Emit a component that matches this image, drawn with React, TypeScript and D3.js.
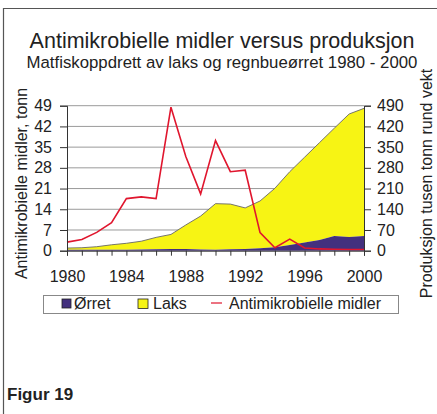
import React, { useRef, useEffect } from 'react';
import * as d3 from 'd3';

// years on the x axis
const years = d3.range(1980, 2001);
// ørret (rainbow trout) production, thousand tonnes
const orret = [3, 3, 3, 3, 3, 4, 5, 6, 6, 4, 3, 4.5, 5.6, 8, 12, 19, 28, 36, 50, 46, 50];
// laks (salmon) production, thousand tonnes, stacked on ørret
const laks = [6, 7, 10.5, 17, 22, 28, 40, 49, 81, 113, 156, 153, 139, 160, 199, 248, 288, 329, 364, 416, 431];
// antimicrobial agents used, tonnes
const midler = [2.9, 3.8, 6.2, 9.5, 17.6, 18.2, 17.6, 48.5, 31.8, 19.2, 37.2, 26.7, 27.2, 6.1, 1.0, 3.9, 0.9, 0.6, 0.5, 0.4, 0.4];

const leftTicks = [0, 7, 14, 21, 28, 35, 42, 49];
const rightTicks = [0, 70, 140, 210, 280, 350, 420, 490];
const xLabels = [1980, 1984, 1988, 1992, 1996, 2000];

const FONT = "'Liberation Sans', Arial, sans-serif";

const App = () => {
    const svgRef = useRef<SVGSVGElement | null>(null);

    useEffect(() => {
        const svg = d3.select(svgRef.current);
        svg.selectAll("*").remove();

        const left = 67, right = 364, top = 105.7, bottom = 250.7;

        const x = d3.scaleLinear().domain([1980, 2000]).range([left, right]);
        const yL = d3.scaleLinear().domain([0, 49]).range([bottom, top]);
        const yR = d3.scaleLinear().domain([0, 490]).range([bottom, top]);

        // frame
        svg.append("path")
            .attr("d", "M3.5,414 L3.5,8.5 L437,8.5")
            .attr("fill", "none")
            .attr("stroke", "#555")
            .attr("stroke-width", 1.2);

        svg.append("text")
            .attr("x", 222).attr("y", 48)
            .attr("text-anchor", "middle")
            .attr("font-size", 21.5)
            .attr("fill", "#222")
            .text("Antimikrobielle midler versus produksjon");

        svg.append("text")
            .attr("x", 222).attr("y", 68)
            .attr("text-anchor", "middle")
            .attr("font-size", 16.8)
            .attr("fill", "#222")
            .text("Matfiskoppdrett av laks og regnbueørret 1980 - 2000");

        // gridlines
        svg.append("g")
            .selectAll("line")
            .data(leftTicks.slice(1))
            .enter()
            .append("line")
            .attr("x1", left).attr("x2", right)
            .attr("y1", (d) => yL(d)).attr("y2", (d) => yL(d))
            .attr("stroke", "#9a9a9a")
            .attr("stroke-width", 1);

        const rows = years.map((yr, i) => ({ year: yr, orret: orret[i], laks: laks[i] }));
        const stacked = d3.stack<any>().keys(["orret", "laks"])(rows);

        const area = d3.area<any>()
            .x((d) => x(d.data.year))
            .y0((d) => yR(d[0]))
            .y1((d) => yR(d[1]));
        const topLine = d3.line<any>()
            .x((d) => x(d.data.year))
            .y((d) => yR(d[1]));

        svg.append("path")
            .datum(stacked[1])
            .attr("fill", "#f7f414")
            .attr("d", area);
        svg.append("path")
            .datum(stacked[1])
            .attr("fill", "none")
            .attr("stroke", "#666")
            .attr("stroke-width", 0.9)
            .attr("d", topLine);

        svg.append("path")
            .datum(stacked[0])
            .attr("fill", "#43307e")
            .attr("d", area);

        const redLine = d3.line<number>()
            .x((d, i) => x(years[i]))
            .y((d) => yL(d));

        svg.append("path")
            .datum(midler)
            .attr("fill", "none")
            .attr("stroke", "#e0162e")
            .attr("stroke-width", 1.6)
            .attr("d", redLine);

        // axes
        const axisColor = "#333";
        const gl = svg.append("g").attr("transform", `translate(${left},0)`)
            .call(d3.axisLeft(yL).tickValues(leftTicks).tickSize(7).tickPadding(8));
        const gr = svg.append("g").attr("transform", `translate(${right},0)`)
            .call(d3.axisRight(yR).tickValues(rightTicks).tickSize(7).tickPadding(6));
        const gb = svg.append("g").attr("transform", `translate(0,${bottom})`)
            .call(d3.axisBottom(x).tickValues(years).tickSize(5).tickFormat(() => ""));
        const gbl = svg.append("g").attr("transform", `translate(0,${bottom})`)
            .call(d3.axisBottom(x).tickValues(xLabels).tickSize(0).tickPadding(20).tickFormat(d3.format("d")));
        gbl.select(".domain").remove();

        [gl, gr, gb, gbl].forEach((g) => {
            g.select(".domain").attr("stroke", axisColor);
            g.selectAll(".tick line").attr("stroke", axisColor);
            g.selectAll("text")
                .attr("font-size", 16)
                .attr("font-family", FONT)
                .attr("fill", "#222");
        });

        svg.append("text")
            .attr("transform", "translate(27,183.5) rotate(-90)")
            .attr("text-anchor", "middle")
            .attr("font-size", 16)
            .attr("fill", "#222")
            .text("Antimikrobielle midler, tonn");

        svg.append("text")
            .attr("transform", "translate(432,183.5) rotate(-90)")
            .attr("text-anchor", "middle")
            .attr("font-size", 16)
            .attr("fill", "#222")
            .text("Produksjon tusen tonn rund vekt");

        // legend
        const lg = svg.append("g");
        lg.append("rect")
            .attr("x", 43.5).attr("y", 295.5)
            .attr("width", 355).attr("height", 18)
            .attr("fill", "#fff")
            .attr("stroke", "#888");
        lg.append("rect")
            .attr("x", 62).attr("y", 299).attr("width", 9).attr("height", 9)
            .attr("fill", "#43307e").attr("stroke", "#222").attr("stroke-width", 0.8);
        lg.append("text").attr("x", 74).attr("y", 309).attr("font-size", 16).attr("fill", "#222").text("Ørret");
        lg.append("rect")
            .attr("x", 138).attr("y", 299).attr("width", 10).attr("height", 9.5)
            .attr("fill", "#f7f414").attr("stroke", "#222").attr("stroke-width", 0.8);
        lg.append("text").attr("x", 153).attr("y", 309).attr("font-size", 16).attr("fill", "#222").text("Laks");
        lg.append("line")
            .attr("x1", 211).attr("x2", 222).attr("y1", 303).attr("y2", 303)
            .attr("stroke", "#e0162e").attr("stroke-width", 1.2);
        lg.append("text").attr("x", 229).attr("y", 309).attr("font-size", 16).attr("fill", "#222").text("Antimikrobielle midler");

        svg.append("text")
            .attr("x", 7).attr("y", 400)
            .attr("font-size", 17)
            .attr("font-weight", "bold")
            .attr("fill", "#222")
            .text("Figur 19");
    }, []);

    return (
        <div style={{ position: "absolute", left: 0, top: 0 }}>
            <svg ref={svgRef} width={437} height={414} style={{ display: "block", fontFamily: FONT, background: "#fff" }} />
        </div>
    );
};

export default App;
